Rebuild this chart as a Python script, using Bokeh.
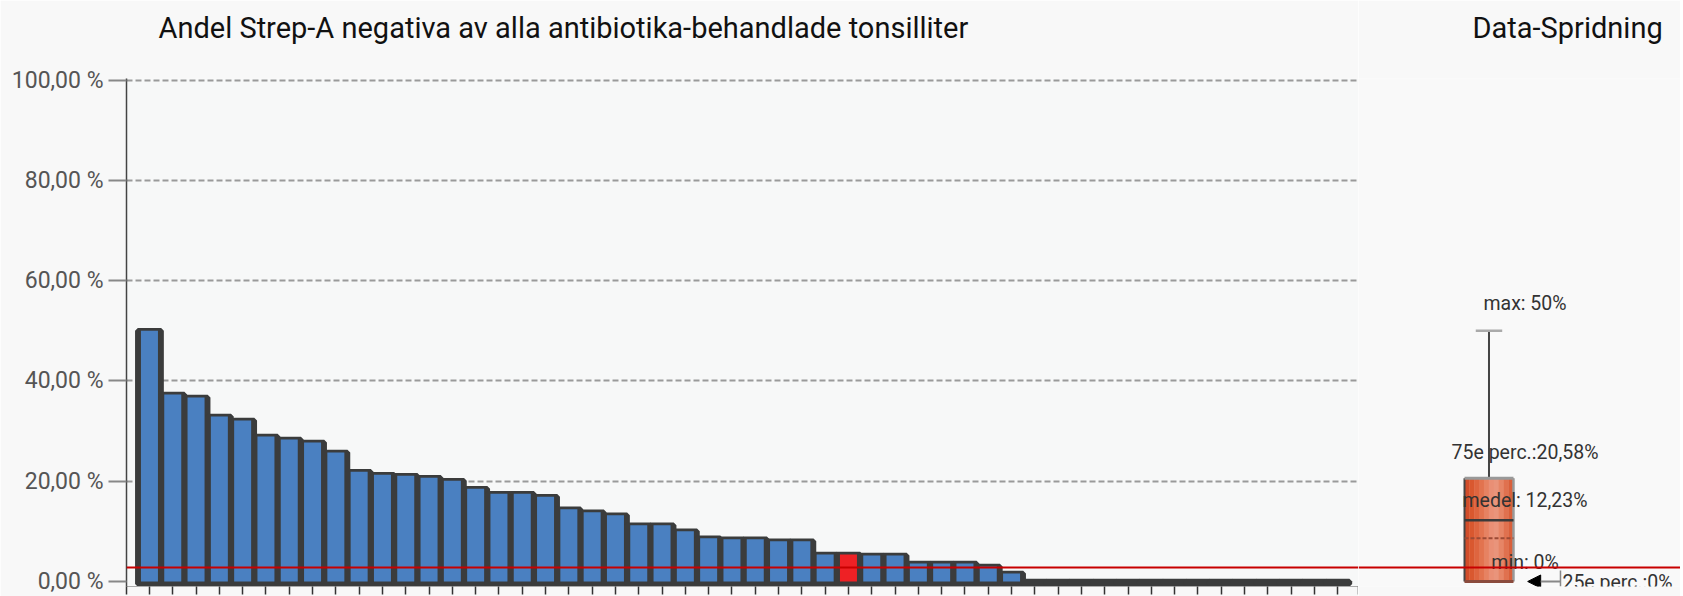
from bokeh.plotting import figure
from bokeh.models import (Range1d, FixedTicker, Span, Label, Arrow,
                          NormalHead, ColumnDataSource)
from bokeh.layouts import row
from bokeh.embed import file_html
from bokeh.resources import INLINE
from bokeh.core.properties import value

FONT = "Roboto"

# ---------------- data ----------------
chart_title = "Andel Strep-A negativa av alla antibiotika-behandlade tonsilliter"
side_title = "Data-Spridning"

shares = [50.0, 37.3, 36.7, 32.9, 32.1, 28.9, 28.3, 27.7, 25.7, 21.9,
          21.3, 21.1, 20.7, 20.1, 18.5, 17.5, 17.5, 16.9, 14.4, 13.8,
          13.2, 11.2, 11.2, 10.0, 8.6, 8.4, 8.4, 8.0, 8.0, 5.4,
          5.4, 5.2, 5.2, 3.6, 3.6, 3.6, 3.0, 1.6, 0.0, 0.0,
          0.0, 0.0, 0.0, 0.0, 0.0, 0.0, 0.0, 0.0, 0.0, 0.0,
          0.0, 0.0]
highlight_index = 30          # own unit (red bar)
reference_level = 2.8         # red horizontal line

y_ticks = [0, 20, 40, 60, 80, 100]
y_tick_labels = ["0,00 %", "20,00 %", "40,00 %", "60,00 %", "80,00 %", "100,00 %"]

stat_max = 50.0
stat_p75 = 20.58
stat_mean = 12.23
stat_median = 8.6
stat_p25 = 0.0
stat_min = 0.0
label_max = "max: 50%"
label_p75 = "75e perc.:20,58%"
label_mean = "medel: 12,23%"
label_min = "min: 0%"
label_p25 = "25e perc.:0%"

# ---------------- styling ----------------
BAR_BLUE = "#4a80c1"
BAR_RED = "#ee2125"
BAR_EDGE = "#3b3c3c"
RED_LINE = "#c80000"
TITLE_PAD = dict(left=0, right=0, top=10, bottom=32)
BOX_SHADES = ["#d24d2a", "#d9582f", "#de653f", "#e2734f", "#e68262",
              "#e98f75", "#e9947b", "#e68566", "#e0714f", "#d9603b"]

yr = Range1d(-1.0, 100.3)
xr = Range1d(0.015, 52.89)


def style_title(fig, text, offset):
    t = fig.title
    t.text = text
    t.text_font = FONT
    t.text_font_size = "29px"
    t.text_font_style = "normal"
    t.text_color = "#111111"
    t.align = "left"
    t.vertical_align = "top"
    t.offset = offset
    t.standoff = 0
    t.padding = TITLE_PAD


# ---------------- main bar chart ----------------
p = figure(width=1358, height=596, x_range=xr, y_range=yr,
           output_backend="svg", toolbar_location=None,
           min_border_left=126, min_border_right=0, min_border_top=78,
           min_border_bottom=10)
p.background_fill_color = "#f7f8f8"
p.border_fill_color = "#f8f8f8"
p.outline_line_color = None
style_title(p, chart_title, 32)

ax = p.yaxis[0]
ax.ticker = FixedTicker(ticks=y_ticks)
ax.major_label_overrides = {t: l for t, l in zip(y_ticks, y_tick_labels)}
ax.axis_line_color = "#444444"
ax.axis_line_width = 1.5
ax.major_tick_line_color = "#888888"
ax.major_tick_line_width = 2
ax.major_tick_out = 18
ax.major_tick_in = 0
ax.minor_tick_line_color = None
ax.major_label_standoff = 5
ax.major_label_text_font = FONT
ax.major_label_text_font_size = "23px"
ax.major_label_text_color = "#555555"

xs = list(range(1, len(shares) + 1))
bx = p.xaxis[0]
bx.ticker = FixedTicker(ticks=[xr.start] + xs + [xr.end])
bx.axis_line_color = "#aaaaaa"
bx.major_tick_line_color = "#333333"
bx.major_tick_line_width = 1.5
bx.major_tick_out = 8
bx.major_tick_in = 0
bx.minor_tick_line_color = None
bx.major_label_text_font_size = "0px"
bx.major_label_text_color = None
bx.major_label_standoff = 0

p.xgrid.visible = False
p.ygrid.ticker = FixedTicker(ticks=y_ticks[1:])
p.ygrid.grid_line_color = "#9a9a9a"
p.ygrid.grid_line_dash = "6 3"
p.ygrid.grid_line_width = 2

colors = [BAR_RED if i == highlight_index else BAR_BLUE for i in range(len(shares))]
src = ColumnDataSource(dict(x=xs, top=shares, color=colors))
# dark frame of each bar, then the coloured fill inside it
p.vbar(x="x", top="top", bottom=-0.5, width=1.0, source=src,
       fill_color=BAR_EDGE, line_color=BAR_EDGE, line_width=5.5)
p.vbar(x="x", top="top", bottom=0, width=0.73, source=src,
       fill_color="color", line_color=None)

p.add_layout(Span(location=reference_level, dimension="width",
                  line_color=RED_LINE, line_width=2))
# continuation of the reference line across the tick-label margin
p.add_layout(Label(x=0, x_units="canvas", y=reference_level, y_units="data",
                   text=" ", text_font_size="1px", text_color=None,
                   text_align="left", text_baseline="middle",
                   padding=dict(left=0, right=126, top=1, bottom=0),
                   background_fill_color=RED_LINE, level="overlay"))

# ---------------- spread (box) panel ----------------
box_x = 0.0
box_w = 1.0
half = box_w / 2
q = figure(width=322, height=596, x_range=Range1d(-2.665, 3.911), y_range=yr,
           output_backend="svg", toolbar_location=None,
           x_axis_location=None, y_axis_location=None,
           min_border_left=0, min_border_right=0, min_border_top=78,
           min_border_bottom=10)
q.background_fill_color = "#f9f9f9"
q.border_fill_color = "#f8f8f8"
q.outline_line_color = None
q.grid.visible = False
style_title(q, side_title, 114)

# whisker + cap
q.segment(x0=[box_x], y0=[stat_p75], x1=[box_x], y1=[stat_max],
          line_color="#444444", line_width=2)
q.segment(x0=[box_x - 0.27 * box_w], y0=[stat_max], x1=[box_x + 0.27 * box_w],
          y1=[stat_max], line_color="#aaaaaa", line_width=2.5)
# box with a soft horizontal gradient (thin strips)
n = len(BOX_SHADES)
strip_w = box_w / n
strip_x = [box_x - half + strip_w * (i + 0.5) for i in range(n)]
q.vbar(x=strip_x, bottom=stat_p25, top=stat_p75, width=strip_w * 1.08,
       fill_color=BOX_SHADES, line_color=None)
q.segment(x0=[box_x - half], y0=[stat_p25], x1=[box_x - half], y1=[stat_p75],
          line_color="#444444", line_width=2)
q.segment(x0=[box_x + half], y0=[stat_p25], x1=[box_x + half], y1=[stat_p75],
          line_color="#999999", line_width=2.5)
q.segment(x0=[box_x - half], y0=[stat_p75], x1=[box_x + half], y1=[stat_p75],
          line_color="#999999", line_width=3)
q.segment(x0=[box_x - half], y0=[stat_p25], x1=[box_x + half], y1=[stat_p25],
          line_color="#8b4b3d", line_width=3)
# mean (solid) and median (dashed)
q.segment(x0=[box_x - half], y0=[stat_mean], x1=[box_x + half], y1=[stat_mean],
          line_color="#3a3a3a", line_width=2.5)
q.segment(x0=[box_x - half], y0=[stat_median], x1=[box_x + half], y1=[stat_median],
          line_color="#9c4a35", line_width=2, line_dash="4 2")

# labels
lab = ColumnDataSource(dict(
    x=[box_x] * 4,
    y=[stat_max, stat_p75, stat_mean, stat_min],
    text=[label_max, label_p75, label_mean, label_min],
    dy=[-27, -26, -20, -19],
))
q.text(x="x", y="y", text="text", y_offset="dy", x_offset=36, source=lab,
       text_align="center", text_baseline="middle",
       text_font=value(FONT), text_font_size="19.5px", text_color="#333333")

q.text(x=[box_x + 1.5], y=[stat_p25], text=[label_p25], x_offset=0, y_offset=1,
       text_align="left", text_baseline="middle",
       text_font=value(FONT), text_font_size="19.5px", text_color="#333333")
q.segment(x0=[box_x + 1.46], y0=[2.2], x1=[box_x + 1.46], y1=[-1.0],
          line_color="#888888", line_width=1.5)
q.add_layout(Arrow(end=NormalHead(size=13, fill_color="black", line_color="black"),
                   x_start=box_x + 1.46, y_start=stat_p25,
                   x_end=box_x + 0.79, y_end=stat_p25,
                   line_color="#888888", line_width=2))

q.add_layout(Span(location=reference_level, dimension="width",
                  line_color=RED_LINE, line_width=2))

layout = row(p, q)
open("out.html", "w").write(file_html(layout, INLINE))
